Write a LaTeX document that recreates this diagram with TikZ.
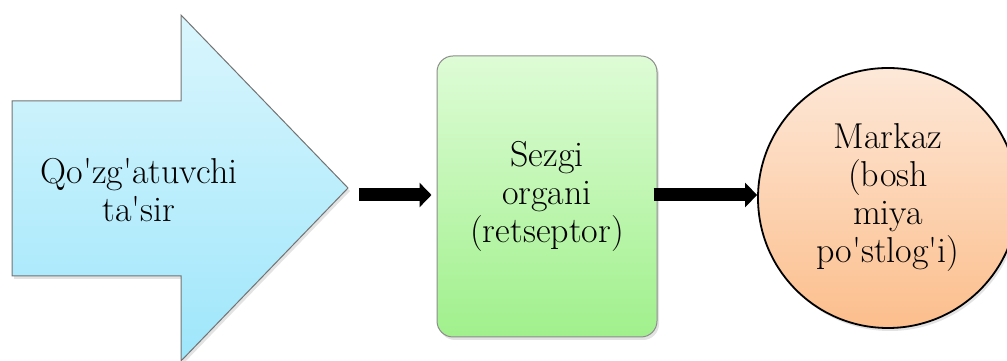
\documentclass[tikz,border=0pt]{standalone}
\usepackage{fontspec}
\usetikzlibrary{arrows.meta,shadows,positioning}

\definecolor{stimtop}{RGB}{218,246,253}
\definecolor{stimbot}{RGB}{158,230,251}
\definecolor{organtop}{RGB}{222,252,214}
\definecolor{organbot}{RGB}{160,240,140}
\definecolor{centtop}{RGB}{253,232,216}
\definecolor{centbot}{RGB}{252,190,140}

\newcommand{\ap}{\textquotesingle}

\tikzset{
	lbl/.style={align=center, font=\rmfamily\fontsize{36}{38}\selectfont, inner sep=0pt},
	flow/.style={line width=13pt, -{Triangle[length=12pt,width=24pt]}},
	softshadow/.style={drop shadow={opacity=0.22, shadow xshift=2pt, shadow yshift=-3pt}},
}

\begin{document}
\begin{tikzpicture}[x=1pt,y=1pt]
			%%%%% START %%%%%
			\useasboundingbox (0,0) rectangle (1007,361);
			\clip (0,0) rectangle (1007,361);
			
			% stimulus
			\draw[draw=black!55, line width=1pt, top color=stimtop, bottom color=stimbot, softshadow] (12,260) -- (181,260) -- (181,346) -- (348,173) -- (181,0) -- (181,85) -- (12,85) -- cycle;
			\node[lbl] (stim) at (139,171) {Qo\ap{}zg\ap{}atuvchi\\ta\ap{}sir};
			\coordinate (tip) at (359,166);
			
			% receptor
			\node[lbl, draw=black!45, line width=1pt, rounded corners=16pt, minimum width=220, minimum height=281, top color=organtop, bottom color=organbot, softshadow] (organ) at (547,164.5) {Sezgi\\organi\\(retseptor)};
			
			% centre
			\node[lbl, circle, draw=black, line width=1.8pt, minimum size=260, top color=centtop, bottom color=centbot, softshadow] (centre) at (888,163) {Markaz\\(bosh\\miya\\po\ap{}stlog\ap{}i)};
			
			\draw[flow, shorten >=5pt] (tip) -- (tip -| organ.west);
			\draw[flow, shorten <=-4pt] (organ.east |- tip) -- (tip -| centre.west);
			
			%%%%% END %%%%%
\end{tikzpicture}
\end{document}
